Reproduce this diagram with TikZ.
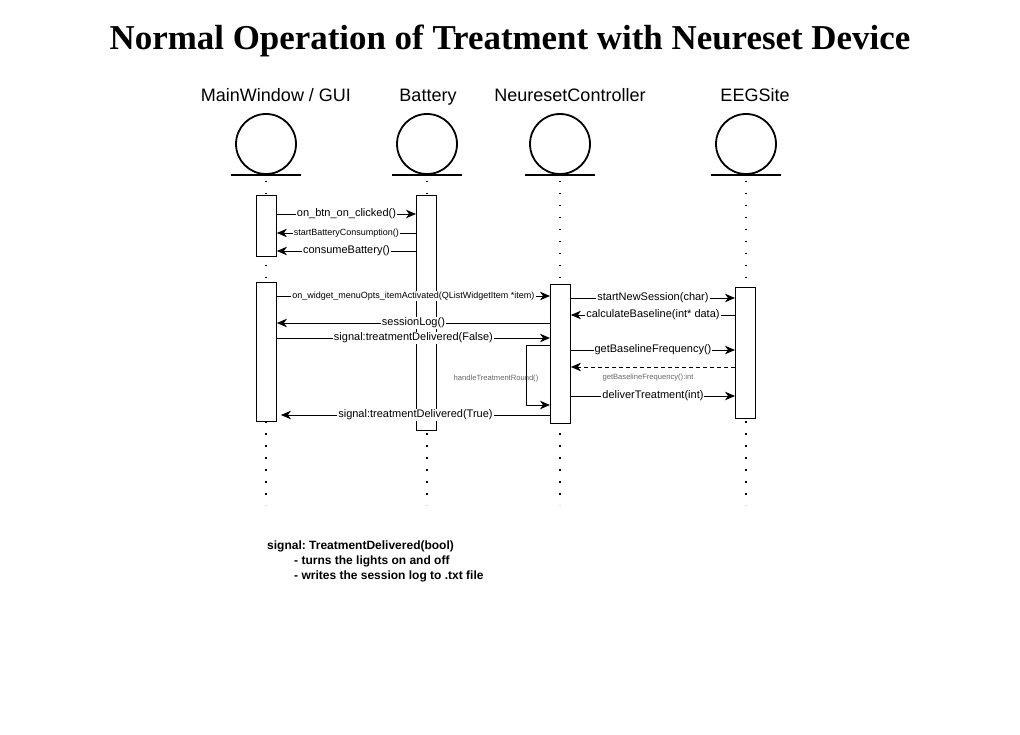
\documentclass[tikz,border=0pt]{standalone}
\usepackage{fontspec}
\setmainfont{Liberation Sans}
\newfontfamily\titlefont{Liberation Serif}
\usetikzlibrary{arrows.meta}
\frenchspacing
\begin{document}
\begin{tikzpicture}[x=1pt,y=-1pt,
  actor/.style={draw,line width=1.8pt,circle,minimum size=60pt,inner sep=0pt},
  actname/.style={font=\fontsize{18}{20}\selectfont,anchor=base},
  base/.style={line width=1.8pt},
  life/.style={line width=1.6pt,dash pattern=on 1.6pt off 10.4pt},
  actbox/.style={draw,fill=white,line width=0.9pt,inner sep=0pt,anchor=north west},
  msg/.style={line width=0.9pt,-{Stealth[length=10pt,width=8.5pt,inset=3pt]}},
  ret/.style={msg,dashed,dash pattern=on 4pt off 3pt},
  lbl/.style={fill=white,inner sep=1pt,font=\fontsize{11}{12}\selectfont},
  lbls/.style={fill=white,inner sep=1pt,font=\fontsize{9}{10}\selectfont},
  lblg/.style={inner sep=1pt,text=black!60,font=\fontsize{7.6}{9}\selectfont},
  note/.style={font=\bfseries\fontsize{12}{15}\selectfont,align=left,anchor=north west,inner sep=0pt}
]
\useasboundingbox (0,0) rectangle (1020,735);
% title
\node[font=\titlefont\bfseries\fontsize{34.9}{40}\selectfont] (title) at (510,41) {Normal Operation of Treatment with Neureset Device};
% actor names
\node[actname] (n1) at (276,102) {MainWindow / GUI};
\node[actname] (n2) at (428,102) {Battery};
\node[actname] (n3) at (570,102) {NeuresetController};
\node[actname] (n4) at (755,102) {EEGSite};
% actors
\node[actor] (a1) at (266,144) {};
\node[actor] (a2) at (427,144) {};
\node[actor] (a3) at (560,144) {};
\node[actor] (a4) at (746,144) {};
\foreach \i in {1,2,3,4} {
  \draw[base] ([xshift=-35pt]a\i.south) -- ([xshift=35pt]a\i.south);
  \coordinate (e\i) at ([yshift=-330pt]a\i.south);
  \draw[life] ([yshift=-6pt]a\i.south) -- (e\i);
}
% activation boxes
\node[actbox,minimum width=20pt,minimum height=61pt] (mw1) at (256,195) {};
\node[actbox,minimum width=20pt,minimum height=139pt] (mw2) at (256,282) {};
\node[actbox,minimum width=20pt,minimum height=235pt] (bat) at (416,195) {};
\node[actbox,minimum width=20pt,minimum height=139pt] (ctl) at (550,284) {};
\node[actbox,minimum width=20pt,minimum height=131pt] (eeg) at (735,287) {};
% messages MainWindow <-> Battery
\draw[msg] (mw1.east |- 0,214) -- node[lbl]{on\_btn\_on\_clicked()} (bat.west |- 0,214);
\draw[msg] (bat.west |- 0,233) -- node[lbls]{startBatteryConsumption()} (mw1.east |- 0,233);
\draw[msg] (bat.west |- 0,251) -- node[lbl]{consumeBattery()} (mw1.east |- 0,251);
% MainWindow <-> Controller
\draw[msg] (mw2.east |- 0,296) -- node[lbls]{on\_widget\_menuOpts\_itemActivated(QListWidgetItem *item)} (ctl.west |- 0,296);
\draw[msg] (ctl.west |- 0,323) -- node[lbl]{sessionLog()} (mw2.east |- 0,323);
\draw[msg] (mw2.east |- 0,338) -- node[lbl]{signal:treatmentDelivered(False)} (ctl.west |- 0,338);
% self message
\coordinate (s1) at (526,345);
\coordinate (s2) at (526,405);
\draw[msg] (ctl.west |- s1) -- (s1) -- (s2) -- (ctl.west |- s2);
\node[lblg] (hlbl) at (496,379) {handleTreatmentRound()};
\draw[msg] (ctl.west |- 0,415) -- node[lbl]{signal:treatmentDelivered(True)} ([xshift=4pt]mw2.east |- 0,415);
% Controller <-> EEGSite
\draw[msg] (ctl.east |- 0,298) -- node[lbl]{startNewSession(char)} (eeg.west |- 0,298);
\draw[msg] (eeg.west |- 0,315) -- node[lbl]{calculateBaseline(int* data)} (ctl.east |- 0,315);
\draw[msg] (ctl.east |- 0,350) -- node[lbl]{getBaselineFrequency()} (eeg.west |- 0,350);
\draw[ret] (eeg.west |- 0,367) -- (ctl.east |- 0,367);
\node[lblg] (rlbl) at (648,378) {getBaselineFrequency():int};
\draw[msg] (ctl.east |- 0,396) -- node[lbl]{deliverTreatment(int)} (eeg.west |- 0,396);
% note
\node[note] (nt) at (267,541) {signal: TreatmentDelivered(bool)\\
\hspace*{27pt}- turns the lights on and off\\
\hspace*{27pt}- writes the session log to .txt file};
\end{tikzpicture}
\end{document}
